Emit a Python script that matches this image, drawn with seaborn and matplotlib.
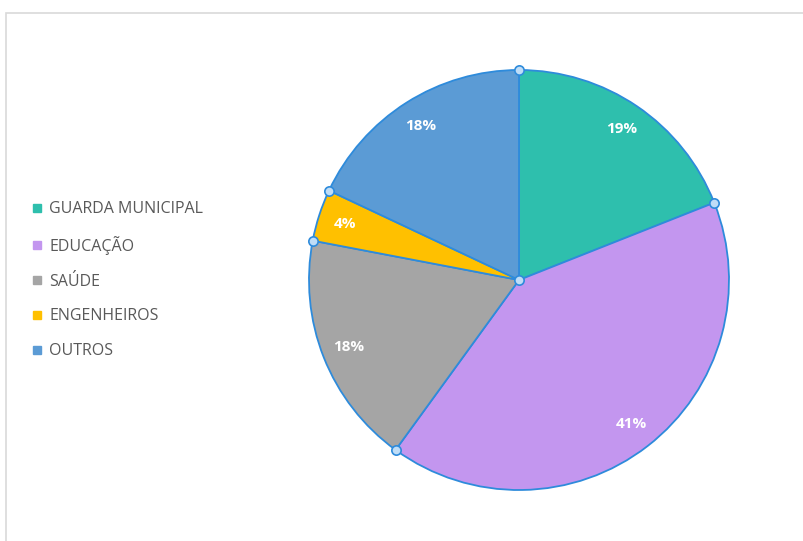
import numpy as np
import matplotlib
matplotlib.use("Agg")
import matplotlib.pyplot as plt
import seaborn as sns
from matplotlib.lines import Line2D
from matplotlib.patches import Rectangle

# dados
categorias = ["GUARDA MUNICIPAL", "EDUCAÇÃO", "SAÚDE", "ENGENHEIROS", "OUTROS"]
valores = [19, 41, 18, 4, 18]
cores = ["#2EBFAD", "#C396EF", "#A5A5A5", "#FFC000", "#5B9BD5"]

sns.set_theme(style="white")
plt.rcParams['font.family'] = ['Open Sans', 'DejaVu Sans']

W, H = 804, 541
fig = plt.figure(figsize=(W / 100, H / 100), dpi=100)
fig.patch.set_facecolor("white")

# moldura
fig.patches.append(Rectangle((6 / W, -0.1), 1.2, 1 - 13 / H + 0.1, transform=fig.transFigure,
                             fill=False, edgecolor="#D9D9D9", lw=1.2))

# pizza
cx, cy, r = 519, 280, 210
ax = fig.add_axes([(cx - r) / W, 1 - (cy + r) / H, 2 * r / W, 2 * r / H])
wedges, textos = ax.pie(valores, colors=cores, startangle=90, counterclock=False,
                        labels=[f"{v}%" for v in valores], labeldistance=0.87,
                        wedgeprops=dict(edgecolor="#2E8BDB", linewidth=1.3))
for t in textos:
    t.set_color("white")
    t.set_fontweight("bold")
    t.set_fontsize(11)
    t.set_ha("center")
    t.set_va("center")
ax.set_xlim(-1.0, 1.0)
ax.set_ylim(-1.0, 1.0)
ax.axis("off")

# alças de seleção
frac = np.cumsum([0] + valores[:-1]) / sum(valores)
ang = np.deg2rad(90 - 360 * frac)
ax.scatter(np.cos(ang), np.sin(ang), s=45, color="#BFDDF7", edgecolor="#2E8BDB",
           linewidth=1.2, zorder=5, clip_on=False)
ax.scatter([0], [0], s=45, color="#BFDDF7", edgecolor="#2E8BDB", linewidth=1.2, zorder=5)

# legenda
handles = [Line2D([], [], marker="s", linestyle="", color=c, markersize=6) for c in cores]
leg = fig.legend(handles, categorias, loc="upper left", bbox_to_anchor=(26 / W, 1 - 195 / H),
                 frameon=False, fontsize=11.5, handlelength=0.6, handletextpad=0.45,
                 labelspacing=1.17, borderaxespad=0)
for t in leg.get_texts():
    t.set_color("#595959")

fig.savefig("out.png", dpi=100, facecolor="white")
